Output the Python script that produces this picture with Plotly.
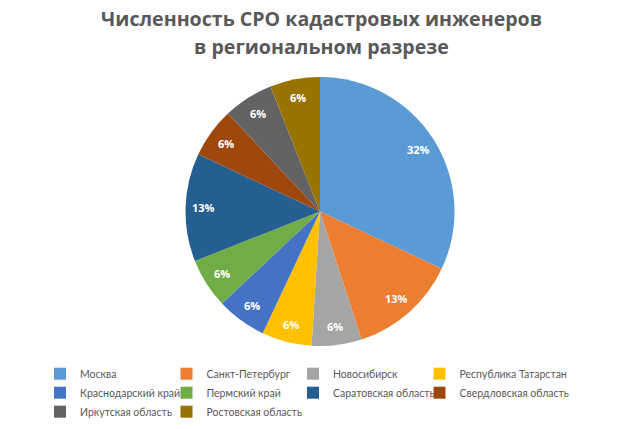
import math
import plotly.graph_objects as go

title_lines = ["Численность СРО кадастровых инженеров", "в региональном разрезе"]
regions = ["Москва", "Санкт-Петербург", "Новосибирск", "Республика Татарстан",
           "Краснодарский край", "Пермский край", "Саратовская область",
           "Свердловская область", "Иркутская область", "Ростовская область"]
shares = [32, 13, 6, 6, 6, 6, 13, 6, 6, 6]
colors = ["#5B9BD5", "#ED7D31", "#A5A5A5", "#FFC000", "#4472C4",
          "#70AD47", "#255E91", "#9E480E", "#636363", "#997300"]

W, H = 643, 429
MR = 60            # right margin so the legend wraps to 4 columns
PW = W - MR        # plot-area width
cx, cy, r = 320, 211.5, 134.5
LABEL_R = 0.865    # data labels sit near the rim, as in the original

dom = dict(x=[(cx - r) / PW, (cx + r) / PW], y=[1 - (cy + r) / H, 1 - (cy - r) / H])

fig = go.Figure(go.Pie(
    labels=regions, values=shares, sort=False, direction="clockwise", rotation=0,
    marker=dict(colors=colors, line=dict(width=0)),
    textinfo="none", domain=dom,
))

# data labels placed at each slice's mid-angle (computed from the shares)
total = sum(shares)
cum = 0
for v in shares:
    mid = (cum + v / 2) / total * 2 * math.pi
    cum += v
    px = cx + LABEL_R * r * math.sin(mid)
    py = cy - LABEL_R * r * math.cos(mid)
    fig.add_annotation(text=f"<b>{v}%</b>", xref="paper", yref="paper",
                       x=px / PW, y=1 - py / H, xanchor="center", yanchor="middle",
                       showarrow=False, font=dict(size=11, color="white", family="Open Sans"))

# invisible, wide legend title so the last legend column is not clipped
spacer = "M" * 226

fig.update_layout(
    width=W, height=H,
    margin=dict(l=0, r=MR, t=0, b=0),
    paper_bgcolor="white",
    plot_bgcolor="white",
    font=dict(family="Lato", color="#595959"),
    legend=dict(orientation="h", x=40 / PW, xanchor="left", y=1 - 354 / H, yanchor="top",
                entrywidth=81.5, entrywidthmode="pixels", itemwidth=30,
                bgcolor="rgba(0,0,0,0)",
                title=dict(text=spacer, side="top",
                           font=dict(size=4, family="DejaVu Sans Mono", color="rgba(0,0,0,0)")),
                font=dict(size=10.5, color="#595959", family="Lato"),
                traceorder="normal"),
    showlegend=True,
)

for i, line in enumerate(title_lines):
    fig.add_annotation(text="<b>" + line + "</b>", xref="paper", yref="paper",
                       x=321 / PW, y=1 - (18 + 28 * i) / H, xanchor="center", yanchor="middle",
                       showarrow=False, font=dict(size=19.6, color="#595959", family="Open Sans"))

fig.write_html("out.html")
